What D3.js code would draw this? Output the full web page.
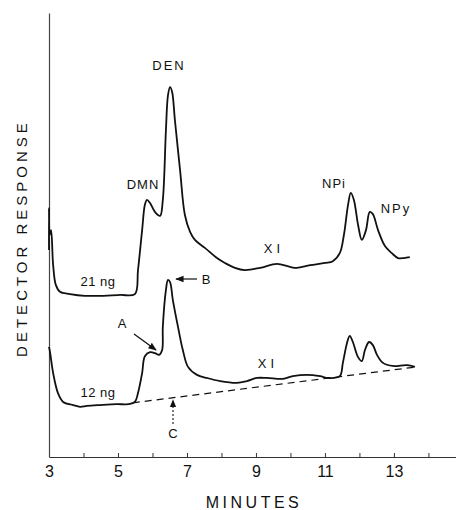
<!DOCTYPE html>
<html><head><meta charset="utf-8">
<script src="https://cdn.jsdelivr.net/npm/d3@7"></script>
<style>
html,body{margin:0;padding:0;background:#fff;}
svg{display:block;}
text{font-family:"Liberation Sans",Arial,sans-serif;fill:#111;}
</style></head>
<body>
<svg id="c" width="456" height="510"></svg>
<script>
// Upper trace (21 ng): minutes, response (arbitrary units)
const upperTime = [3.00,3.00,3.02,3.06,3.12,3.20,3.32,3.61,4.04,4.48,5.06,5.49,5.58,5.70,5.78,5.84,5.93,6.07,6.22,6.30,6.39,6.45,6.51,6.57,6.65,6.80,6.94,7.09,7.23,7.52,7.87,8.10,8.39,8.68,9.12,9.61,9.99,10.19,10.57,11.00,11.23,11.43,11.55,11.67,11.75,11.84,11.96,12.07,12.19,12.30,12.39,12.54,12.74,12.94,13.12,13.29,13.46];
const upperResp = [46.6,56.1,50.0,51.1,43.2,38.7,37.2,36.7,36.3,36.3,36.5,36.7,42.1,51.1,56.8,57.9,57.2,55.2,54.3,57.9,73.6,81.5,83.3,82.2,75.9,64.6,54.5,50.7,48.9,47.1,44.8,43.7,42.6,42.1,42.6,43.5,42.8,42.6,43.2,43.7,44.1,45.9,50.0,56.8,59.5,57.9,52.3,48.9,51.1,55.2,54.7,51.1,47.5,45.9,44.8,44.8,45.0];
// Lower trace (12 ng)
const lowerTime = [3.00,3.03,3.12,3.26,3.41,3.70,3.90,4.10,4.48,4.97,5.29,5.49,5.58,5.70,5.78,5.93,6.07,6.19,6.28,6.30,6.39,6.45,6.51,6.59,6.74,6.88,7.03,7.29,7.58,7.96,8.45,8.74,9.03,9.32,9.78,10.07,10.48,10.86,11.09,11.43,11.52,11.64,11.72,11.81,11.96,12.07,12.16,12.28,12.39,12.51,12.68,12.97,13.38,13.61];
const lowerResp = [24.8,23.6,18.9,14.4,12.4,11.7,11.3,11.5,11.7,11.9,11.9,12.4,14.4,18.9,22.7,23.6,23.4,23.0,24.1,29.3,37.6,39.9,39.4,35.4,29.3,24.1,20.3,18.5,17.8,17.1,16.7,17.1,17.8,17.8,17.6,18.2,18.5,18.2,17.8,18.2,21.2,25.7,27.3,25.9,22.5,21.6,24.1,25.9,25.2,23.0,21.2,20.5,20.7,20.3];
// Dashed baseline under lower trace
const baseTime = [5.43,13.67];
const baseResp = [12.2,20.3];
// Axis ticks
const xTicks = [3,4,5,6,7,8,9,10,11,12,13,14];
const xTickLabels = ["3","","5","","7","","9","","11","","13",""];

const svg = d3.select("#c");
const x = d3.scaleLinear().domain([3,14.8]).range([49,456]);
const y = d3.scaleLinear().domain([0,100]).range([457,13]);

// axes
const xAxis = d3.axisBottom(x).tickValues(xTicks)
  .tickFormat((d,i)=>xTickLabels[i]).tickSize(-4).tickPadding(9).tickSizeOuter(0);
const gx = svg.append("g").attr("transform","translate(0,457)").call(xAxis);
gx.select(".domain").attr("stroke","#333").attr("stroke-width",1.2);
gx.selectAll(".tick line").attr("stroke","#333").attr("stroke-width",1);
gx.selectAll(".tick text").style("font-size","16px").style("fill","#111").attr("font-family",null);

const yAxis = d3.axisLeft(y).tickValues([]).tickSizeOuter(0);
const gy = svg.append("g").attr("transform","translate(49,0)").call(yAxis);
gy.select(".domain").attr("stroke","#444").attr("stroke-width",1.2);

// traces
const line = d3.line().x(d=>x(d[0])).y(d=>y(d[1])).curve(d3.curveCatmullRom.alpha(0.5));
const up = upperTime.map((t,i)=>[t,upperResp[i]]);
const lo = lowerTime.map((t,i)=>[t,lowerResp[i]]);
svg.append("path").attr("d",line(up)).attr("fill","none").attr("stroke","#111").attr("stroke-width",1.8).attr("stroke-linejoin","round");
svg.append("path").attr("d",line(lo)).attr("fill","none").attr("stroke","#111").attr("stroke-width",1.8).attr("stroke-linejoin","round");
const bl = baseTime.map((t,i)=>[t,baseResp[i]]);
svg.append("path").attr("d",d3.line().x(d=>x(d[0])).y(d=>y(d[1]))(bl))
  .attr("fill","none").attr("stroke","#111").attr("stroke-width",1.2).attr("stroke-dasharray","7,5");

// labels
function txt(t, px, py, size, ls, anchor){
  return svg.append("text").attr("x",px).attr("y",py).attr("text-anchor",anchor||"middle")
    .attr("dominant-baseline","central").style("font-size",size+"px").style("letter-spacing",ls+"px").text(t);
}
txt("DEN",169,65,13,2);
txt("DMN",143,184,13,1);
txt("NPi",334,183,13,1);
txt("NPy",396,208,13,2);
txt("XI",274,248,13,4);
txt("XI",268,363,13,4);
txt("21 ng",98,281,13,0.5);
txt("12 ng",98,392,13,0.5);
txt("B",206,279,13,0);
txt("A",122,323,13,0);
txt("C",173,433,13,0);
txt("MINUTES",254,502,16,3.5);
svg.append("text").attr("transform","translate(21,238) rotate(-90)").attr("text-anchor","middle")
  .attr("dominant-baseline","central").style("font-size","15px").style("letter-spacing","4px").text("DETECTOR RESPONSE");

// arrows
const defs = svg.append("defs");
defs.append("marker").attr("id","ah").attr("viewBox","0 0 10 10").attr("refX",9).attr("refY",5)
  .attr("markerWidth",7).attr("markerHeight",7).attr("orient","auto")
  .append("path").attr("d","M0,1 L10,5 L0,9 z").attr("fill","#111");
svg.append("line").attr("x1",197).attr("y1",279).attr("x2",176).attr("y2",279)
  .attr("stroke","#111").attr("stroke-width",1.2).attr("marker-end","url(#ah)");
svg.append("line").attr("x1",134).attr("y1",334).attr("x2",156).attr("y2",350)
  .attr("stroke","#111").attr("stroke-width",1.2).attr("marker-end","url(#ah)");
svg.append("line").attr("x1",173).attr("y1",424).attr("x2",173).attr("y2",400)
  .attr("stroke","#111").attr("stroke-width",1.1).attr("stroke-dasharray","2,2").attr("marker-end","url(#ah)");
</script>
</body></html>
